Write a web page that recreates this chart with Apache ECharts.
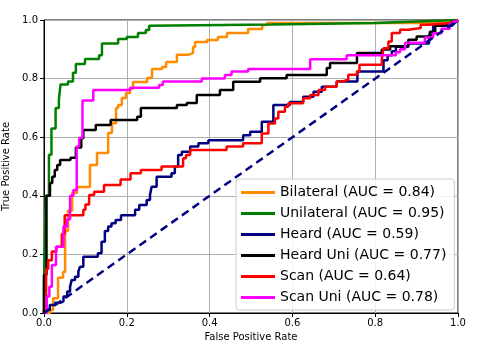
<!DOCTYPE html>
<html>
<head>
<meta charset="utf-8">
<script src="https://cdn.jsdelivr.net/npm/echarts@6/dist/echarts.min.js"></script>
<style>
  html, body { margin: 0; padding: 0; background: #fff; }
  #chart { width: 479px; height: 346px; }
</style>
</head>
<body>
<div id="chart"></div>
<script>
// ROC curves, points as [fpr, tpr]
const bilateral = [
  [0, 0], [0.015, 0], [0.015, 0.01], [0.022, 0.01], [0.022, 0.05], [0.034, 0.05], [0.034, 0.12],
  [0.046, 0.12], [0.046, 0.14], [0.051, 0.14], [0.051, 0.28], [0.058, 0.28], [0.058, 0.35],
  [0.068, 0.35], [0.068, 0.41], [0.08, 0.41], [0.08, 0.43], [0.111, 0.43], [0.111, 0.505],
  [0.128, 0.505], [0.128, 0.546], [0.155, 0.546], [0.155, 0.614], [0.164, 0.614], [0.164, 0.648],
  [0.174, 0.648], [0.174, 0.70], [0.179, 0.70], [0.179, 0.71], [0.188, 0.71], [0.188, 0.734],
  [0.198, 0.734], [0.198, 0.751], [0.208, 0.751], [0.208, 0.765], [0.215, 0.765], [0.215, 0.788],
  [0.249, 0.788], [0.249, 0.802], [0.261, 0.802], [0.261, 0.833], [0.285, 0.833], [0.285, 0.84],
  [0.295, 0.84], [0.295, 0.857], [0.321, 0.857], [0.321, 0.881], [0.348, 0.881], [0.348, 0.887],
  [0.36, 0.887], [0.36, 0.908], [0.365, 0.908], [0.365, 0.925], [0.394, 0.925], [0.394, 0.932],
  [0.42, 0.932], [0.42, 0.942], [0.442, 0.942], [0.442, 0.956], [0.493, 0.956], [0.493, 0.969],
  [0.527, 0.969], [0.527, 0.983], [0.539, 0.983], [0.539, 0.99], [0.95, 0.99], [0.97, 1], [1, 1]
]
const unilateral = [
  [0, 0], [0, 0.1], [0.004, 0.1], [0.004, 0.40], [0.012, 0.40], [0.012, 0.54], [0.018, 0.54],
  [0.018, 0.63], [0.028, 0.63], [0.028, 0.70], [0.036, 0.70], [0.036, 0.73], [0.04, 0.73],
  [0.04, 0.78], [0.058, 0.78], [0.058, 0.79], [0.07, 0.79], [0.07, 0.82], [0.077, 0.82],
  [0.077, 0.85], [0.099, 0.85], [0.099, 0.867], [0.133, 0.867], [0.133, 0.88], [0.14, 0.88],
  [0.14, 0.92], [0.179, 0.92], [0.179, 0.935], [0.2, 0.935], [0.2, 0.942], [0.227, 0.942],
  [0.227, 0.956], [0.246, 0.956], [0.246, 0.966], [0.254, 0.966], [0.254, 0.98], [0.55, 0.985],
  [0.8, 0.99], [1, 1]
]
const heard = [
  [0, 0], [0, 0.01], [0.014, 0.01], [0.014, 0.027], [0.027, 0.027], [0.027, 0.035], [0.039, 0.035],
  [0.039, 0.04], [0.047, 0.04], [0.047, 0.056], [0.056, 0.056], [0.056, 0.073], [0.063, 0.073],
  [0.063, 0.09], [0.067, 0.09], [0.067, 0.113], [0.075, 0.113], [0.075, 0.124], [0.083, 0.124],
  [0.083, 0.141], [0.087, 0.141], [0.087, 0.158], [0.095, 0.158], [0.095, 0.192], [0.13, 0.192],
  [0.13, 0.204], [0.139, 0.204], [0.139, 0.243], [0.147, 0.243], [0.147, 0.28], [0.155, 0.28],
  [0.155, 0.295], [0.163, 0.295], [0.163, 0.306], [0.173, 0.306], [0.173, 0.317], [0.186, 0.317],
  [0.186, 0.334], [0.22, 0.334], [0.22, 0.352], [0.23, 0.352], [0.23, 0.369], [0.248, 0.369],
  [0.248, 0.386], [0.256, 0.386], [0.256, 0.403], [0.26, 0.403], [0.26, 0.431], [0.272, 0.431],
  [0.272, 0.465], [0.308, 0.465], [0.308, 0.477], [0.316, 0.477], [0.316, 0.50], [0.324, 0.50],
  [0.324, 0.539], [0.333, 0.539], [0.333, 0.55], [0.353, 0.55], [0.353, 0.568], [0.373, 0.568],
  [0.373, 0.579], [0.397, 0.579], [0.397, 0.59], [0.481, 0.59], [0.481, 0.607], [0.498, 0.607],
  [0.498, 0.619], [0.526, 0.619], [0.526, 0.653], [0.554, 0.653], [0.554, 0.71], [0.594, 0.71],
  [0.594, 0.72], [0.626, 0.72], [0.626, 0.738], [0.651, 0.738], [0.651, 0.755], [0.671, 0.755],
  [0.671, 0.772], [0.707, 0.772], [0.707, 0.79], [0.757, 0.79], [0.757, 0.824], [0.82, 0.824],
  [0.82, 0.863], [0.83, 0.863], [0.83, 0.88], [0.84, 0.88], [0.84, 0.893], [0.85, 0.893],
  [0.85, 0.909], [0.88, 0.909], [0.88, 0.92], [0.93, 0.92], [0.93, 0.95], [0.94, 0.95],
  [0.94, 0.98], [0.985, 0.98], [1, 1]
]
const heardUni = [
  [0, 0], [0, 0.13], [0.006, 0.13], [0.006, 0.40], [0.0145, 0.40], [0.0145, 0.444], [0.02, 0.444],
  [0.02, 0.465], [0.026, 0.465], [0.026, 0.488], [0.032, 0.488], [0.032, 0.505], [0.039, 0.505],
  [0.039, 0.522], [0.064, 0.522], [0.064, 0.53], [0.077, 0.53], [0.077, 0.565], [0.09, 0.565],
  [0.09, 0.596], [0.095, 0.596], [0.095, 0.625], [0.125, 0.625], [0.125, 0.642], [0.161, 0.642],
  [0.161, 0.659], [0.225, 0.659], [0.225, 0.67], [0.234, 0.67], [0.234, 0.70], [0.321, 0.70],
  [0.321, 0.71], [0.345, 0.71], [0.345, 0.717], [0.369, 0.717], [0.369, 0.744], [0.425, 0.744],
  [0.425, 0.761], [0.457, 0.761], [0.457, 0.789], [0.522, 0.789], [0.522, 0.801], [0.586, 0.801],
  [0.586, 0.812], [0.683, 0.812], [0.683, 0.836], [0.691, 0.836], [0.691, 0.853], [0.756, 0.853],
  [0.756, 0.887], [0.816, 0.887], [0.816, 0.899], [0.836, 0.899], [0.836, 0.91], [0.88, 0.91],
  [0.88, 0.933], [0.9, 0.933], [0.9, 0.944], [0.932, 0.944], [0.932, 0.96], [0.945, 0.96],
  [0.945, 0.98], [0.96, 0.98], [1, 1]
]
const scan = [
  [0, 0], [0.005, 0], [0.005, 0.15], [0.01, 0.15], [0.01, 0.18], [0.019, 0.18], [0.019, 0.21],
  [0.03, 0.21], [0.03, 0.226], [0.043, 0.226], [0.043, 0.27], [0.05, 0.27], [0.05, 0.334],
  [0.095, 0.334], [0.095, 0.352], [0.1, 0.352], [0.1, 0.37], [0.109, 0.37], [0.109, 0.403],
  [0.121, 0.403], [0.121, 0.414], [0.145, 0.414], [0.145, 0.437], [0.185, 0.437], [0.185, 0.456],
  [0.209, 0.456], [0.209, 0.477], [0.234, 0.477], [0.234, 0.488], [0.284, 0.488], [0.284, 0.50],
  [0.336, 0.50], [0.336, 0.528], [0.343, 0.528], [0.343, 0.539], [0.353, 0.539], [0.353, 0.556],
  [0.441, 0.556], [0.441, 0.568], [0.481, 0.568], [0.481, 0.579], [0.526, 0.579], [0.526, 0.613],
  [0.542, 0.613], [0.542, 0.647], [0.558, 0.647], [0.558, 0.664], [0.566, 0.664], [0.566, 0.687],
  [0.582, 0.687], [0.582, 0.704], [0.59, 0.704], [0.59, 0.716], [0.626, 0.716], [0.626, 0.733],
  [0.643, 0.733], [0.643, 0.744], [0.663, 0.744], [0.663, 0.761], [0.679, 0.761], [0.679, 0.772],
  [0.707, 0.772], [0.707, 0.79], [0.72, 0.79], [0.72, 0.796], [0.735, 0.796], [0.735, 0.813],
  [0.756, 0.813], [0.756, 0.825], [0.762, 0.825], [0.762, 0.847], [0.816, 0.847], [0.816, 0.865],
  [0.82, 0.865], [0.82, 0.904], [0.832, 0.904], [0.832, 0.927], [0.84, 0.927], [0.84, 0.956],
  [0.86, 0.956], [0.86, 0.967], [0.88, 0.967], [0.88, 0.973], [0.91, 0.973], [0.91, 0.984],
  [0.93, 0.984], [0.93, 0.99], [0.98, 0.99], [1, 1]
]
const scanUni = [
  [0, 0], [0.0065, 0], [0.0065, 0.056], [0.013, 0.056], [0.013, 0.09], [0.019, 0.09], [0.019, 0.164],
  [0.029, 0.164], [0.029, 0.226], [0.047, 0.226], [0.047, 0.295], [0.056, 0.295], [0.056, 0.32],
  [0.063, 0.32], [0.063, 0.40], [0.071, 0.40], [0.071, 0.42], [0.079, 0.42], [0.079, 0.568],
  [0.085, 0.568], [0.085, 0.597], [0.093, 0.597], [0.093, 0.725], [0.119, 0.725], [0.119, 0.761],
  [0.208, 0.761], [0.208, 0.769], [0.278, 0.769], [0.278, 0.778], [0.287, 0.778], [0.287, 0.79],
  [0.381, 0.79], [0.381, 0.80], [0.437, 0.80], [0.437, 0.812], [0.453, 0.812], [0.453, 0.824],
  [0.493, 0.824], [0.493, 0.833], [0.643, 0.833], [0.643, 0.866], [0.731, 0.866], [0.731, 0.88],
  [0.85, 0.88], [0.85, 0.89], [0.86, 0.89], [0.86, 0.90], [0.872, 0.90], [0.872, 0.922],
  [0.92, 0.922], [0.92, 0.94], [0.94, 0.94], [0.94, 0.955], [0.96, 0.955], [0.96, 0.97],
  [0.98, 0.97], [0.98, 0.985], [1, 1]
]
const chance = [[0, 0], [1, 1]]

const seriesNames = [
  'Bilateral (AUC = 0.84)',
  'Unilateral (AUC = 0.95)',
  'Heard (AUC = 0.59)',
  'Heard Uni (AUC = 0.77)',
  'Scan (AUC = 0.64)',
  'Scan Uni (AUC = 0.78)'
]
const seriesData = [bilateral, unilateral, heard, heardUni, scan, scanUni]
const colors = ['#ff8c00', '#008000', '#000080', '#000000', '#ff0000', '#ff00ff']

const font = 'DejaVu Sans'
const chart = echarts.init(document.getElementById('chart'))

const axisCommon = {
  type: 'value',
  min: 0,
  max: 1,
  interval: 0.2,
  nameLocation: 'middle',
  nameTextStyle: { fontFamily: font, fontSize: 10, color: '#000' },
  axisLine: { show: true, onZero: false, lineStyle: { color: '#000', width: 1 } },
  axisTick: { show: true, length: 4, lineStyle: { color: '#000' } },
  axisLabel: {
    fontFamily: font,
    fontSize: 10,
    color: '#000',
    formatter: v => v.toFixed(1)
  },
  splitLine: { show: true, lineStyle: { color: '#b0b0b0', width: 1 } }
}

const lines = seriesData.map((d, i) => ({
  name: seriesNames[i],
  type: 'line',
  data: d,
  showSymbol: false,
  symbol: 'none',
  color: colors[i],
  lineStyle: { color: colors[i], width: 2.5 },
  z: 2 + i
}))

lines.push({
  name: 'chance',
  type: 'line',
  data: chance,
  showSymbol: false,
  symbol: 'none',
  lineStyle: { color: '#000080', width: 2.5, type: [8, 5] },
  z: 9
})

chart.setOption({
  animation: false,
  grid: {
    left: 44,
    right: 21,
    top: 20,
    bottom: 33,
    outerBoundsMode: 'none',
    containLabel: false,
    show: true,
    borderColor: '#000',
    borderWidth: 1,
    backgroundColor: 'transparent'
  },
  xAxis: Object.assign({}, axisCommon, {
    name: 'False Positive Rate',
    nameGap: 14,
    axisLabel: Object.assign({}, axisCommon.axisLabel, { margin: 5 })
  }),
  yAxis: Object.assign({}, axisCommon, {
    name: 'True Positive Rate',
    nameGap: 30,
    axisLabel: Object.assign({}, axisCommon.axisLabel, { margin: 6 })
  }),
  legend: {
    data: seriesNames.map(n => ({ name: n, icon: 'rect' })),
    orient: 'vertical',
    left: 236,
    top: 179,
    itemWidth: 34,
    itemHeight: 3,
    itemGap: 6,
    padding: [6, 8, 5, 5],
    backgroundColor: 'rgba(255,255,255,0.85)',
    borderColor: '#cccccc',
    borderWidth: 1,
    borderRadius: 3,
    z: 20,
    textStyle: { fontFamily: font, fontSize: 14, color: '#000', lineHeight: 15 }
  },
  series: lines
})
</script>
</body>
</html>
